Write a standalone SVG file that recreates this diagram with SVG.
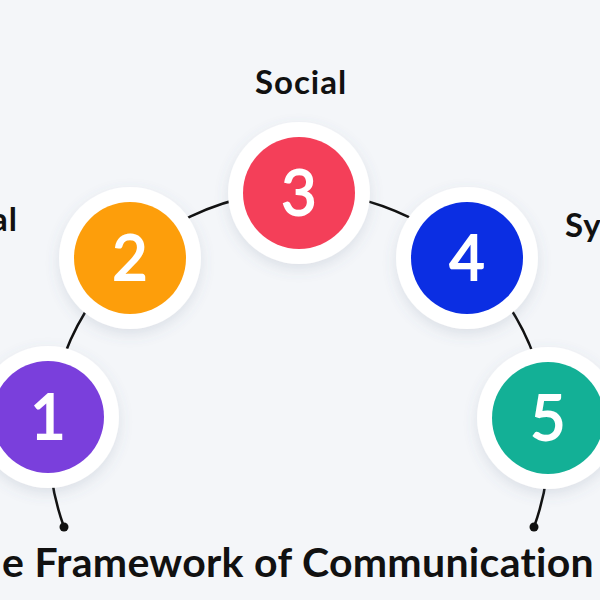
<svg xmlns="http://www.w3.org/2000/svg" width="600" height="600" viewBox="0 0 600 600">
<defs>
<filter id="sh" x="-30%" y="-30%" width="160%" height="160%">
<feDropShadow dx="0" dy="5" stdDeviation="7" flood-color="#5a6a85" flood-opacity="0.16"/>
</filter>
<style>
.ring{fill:#ffffff;filter:url(#sh)}
.num{font-family:Lato,"Open Sans",sans-serif;font-weight:400;font-size:61px;fill:#ffffff;stroke:#ffffff;stroke-width:1.8;text-anchor:middle}
.lbl{font-family:Lato,"Open Sans",sans-serif;font-weight:700;font-size:33px;letter-spacing:1px;fill:#111111}
.title{font-family:Lato,"Open Sans",sans-serif;font-weight:700;font-size:41px;letter-spacing:0.3px;fill:#111111}
.conn{fill:none;stroke:#111111;stroke-width:2.5}
</style>
</defs>
<rect width="600" height="600" fill="#f4f6f9"/>
<g id="connectors">
<path class="conn" d="M64,527 A250,250 0 1 1 534,527"/>
<circle cx="64" cy="527" r="4.5" fill="#111111"/>
<circle cx="534" cy="527" r="4.5" fill="#111111"/>
</g>
<g id="node1">
<circle class="ring" cx="48" cy="417" r="71"/>
<circle cx="48" cy="417" r="56" fill="#7a3fdc"/>
<text class="num" x="48" y="439">1</text>
</g>
<g id="node2">
<circle class="ring" cx="130" cy="258" r="71"/>
<circle cx="130" cy="258" r="56" fill="#fd9e0b"/>
<text class="num" x="130" y="280">2</text>
<text class="lbl" x="18" y="231" text-anchor="end">al</text>
</g>
<g id="node3">
<circle class="ring" cx="299" cy="193" r="71"/>
<circle cx="299" cy="193" r="56" fill="#f43f59"/>
<text class="num" x="299" y="215">3</text>
<text class="lbl" x="301" y="94" text-anchor="middle">Social</text>
</g>
<g id="node4">
<circle class="ring" cx="467" cy="258" r="71"/>
<circle cx="467" cy="258" r="56" fill="#0b2ee3"/>
<text class="num" x="467" y="280">4</text>
<text class="lbl" x="565" y="237">Sy</text>
</g>
<g id="node5">
<circle class="ring" cx="548" cy="418" r="71"/>
<circle cx="548" cy="418" r="56" fill="#13b096"/>
<text class="num" x="548" y="440">5</text>
</g>
<text class="title" x="594" y="577" text-anchor="end">he Framework of Communication</text>
</svg>
